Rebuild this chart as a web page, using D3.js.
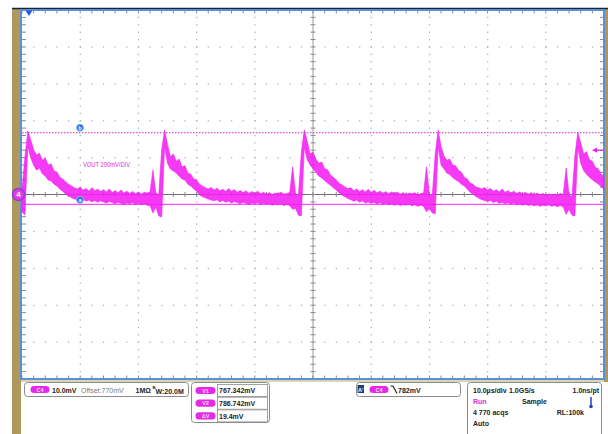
<!DOCTYPE html>
<html><head><meta charset="utf-8">
<script src="https://cdn.jsdelivr.net/npm/d3@7"></script>
<style>html,body{margin:0;padding:0;background:#fff;overflow:hidden}svg{display:block}</style>
</head><body><svg id="c" width="608" height="434"></svg>
<script>
// ---- data (Ch4, 10 mV/div, offset 770 mV, 10 µs/div) ----
const sampleStepUs = 0.5;
const vHigh = [771.2,780.2,787.2,784.8,782.1,780.7,781.2,779.3,779.9,778.0,
778.3,776.4,776.1,774.7,774.2,773.4,772.8,772.3,771.8,771.5,
772.0,771.2,771.6,770.9,771.8,771.1,771.4,770.8,771.3,770.7,
771.5,770.6,771.0,770.5,771.2,770.4,770.9,770.3,770.8,770.2,
770.7,770.1,770.6,770.4,770.7,776.6,770.4,769.9,782.1,787.5,
783.5,780.2,781.0,779.0,779.6,777.5,777.8,775.8,775.5,774.2,
773.9,772.8,772.3,771.8,771.5,771.9,771.2,771.7,771.0,771.4,
770.8,771.6,770.9,771.3,770.6,771.1,770.5,771.0,770.3,770.8,
770.4,770.9,770.2,770.6,770.1,770.5,770.0,770.4,770.2,770.6,
770.1,770.3,770.5,777.5,770.2,769.8,781.5,787.5,784.5,781.0,
781.5,779.6,778.5,778.8,777.0,776.7,775.3,774.6,774.0,773.0,
772.6,772.0,771.6,771.8,771.0,771.5,770.8,771.3,770.7,771.4,
770.6,771.1,770.5,770.9,770.3,770.8,770.2,770.7,770.4,770.6,
770.1,770.5,770.0,770.4,770.2,770.5,769.9,770.3,770.4,777.5,
770.0,769.7,781.0,787.5,783.0,780.5,779.3,779.6,778.0,777.8,
776.6,776.0,774.7,774.2,773.1,772.8,772.0,771.8,771.5,771.9,
771.2,771.6,770.9,771.3,770.7,771.5,770.6,771.0,770.4,770.9,
770.3,770.7,770.2,770.6,770.1,770.5,770.0,770.4,769.9,770.3,
769.8,770.2,769.8,770.1,769.9,770.3,770.0,777.2,769.8,769.5,
780.5,786.9,784.0,781.0,781.6,779.4,779.0,777.4,777.0,775.5,
775.0];
const vLow = [765.3,764.4,783.1,779.9,778.0,776.6,777.2,775.6,775.0,773.9,
773.7,772.8,772.3,771.5,770.9,770.1,769.6,769.1,768.8,768.6,
768.3,768.7,768.2,768.5,768.0,768.4,767.9,768.3,768.0,767.7,
768.1,767.8,767.5,767.9,767.6,767.3,767.7,767.4,767.8,767.2,
767.6,767.3,767.5,767.1,767.0,765.0,766.6,764.2,763.9,783.0,
778.5,776.9,776.4,775.8,775.0,774.2,773.9,772.8,772.3,771.5,
770.9,769.9,769.4,769.1,768.8,768.5,768.3,768.6,768.0,768.4,
767.9,768.2,767.7,768.1,767.8,767.5,767.9,767.6,767.3,767.7,
767.4,767.8,767.2,767.6,767.3,767.5,767.1,767.4,767.2,767.5,
767.0,767.3,767.0,766.0,766.3,764.4,764.2,782.8,779.5,778.0,
777.0,776.0,775.0,774.5,773.8,773.1,772.5,771.8,771.2,770.4,
769.8,769.4,768.9,768.6,768.2,768.5,767.9,768.3,767.7,768.0,
767.6,767.9,767.4,767.8,767.3,767.6,767.2,767.5,767.1,767.4,
767.0,767.3,767.1,767.4,766.9,767.2,766.8,767.1,766.8,765.3,
766.2,765.0,764.8,783.0,778.0,777.0,775.8,775.4,774.6,774.0,
773.5,772.8,772.3,771.5,770.6,770.1,769.5,769.0,768.6,768.4,
768.1,768.4,767.8,768.2,767.6,767.9,767.5,767.8,767.3,767.7,
767.2,767.5,767.1,767.4,767.0,767.3,766.9,767.2,766.8,767.1,
766.9,767.2,766.8,767.0,766.7,767.0,766.6,764.6,766.0,764.4,
764.2,782.8,778.5,776.5,775.5,774.7,774.0,773.4,772.9,772.1,
771.4];
const cursorA = 767.342, cursorB = 786.742, triggerLevel = 782;
const timeDomain = [0, 100];      // µs across 10 divisions
const voltDomain = [720, 820];    // mV across 10 divisions
const xMajor = [0,10,20,30,40,50,60,70,80,90,100];
const yMajor = [720,730,740,750,760,770,780,790,800,810,820];
const channelLabel = ["C4","10.0mV","Offset:770mV","1MΩ","W:20.0M"];
const cursorRows = [["V1","767.342mV"],["V2","786.742mV"],["ΔV","19.4mV"]];
const triggerText = "782mV";
const acqRows = [["10.0µs/div","1.0GS/s","1.0ns/pt"],["Run","Sample",""],["4 770 acqs","","RL:100k"],["Auto","",""]];
const probeLabel = "VOUT 200mV/DIV";

const svg = d3.select("#c");
const F = "'Liberation Sans', Arial, sans-serif";
const MAG = "#f41ef4";
const x = d3.scaleLinear().domain(timeDomain).range([22, 604]);
const y = d3.scaleLinear().domain(voltDomain).range([379, 10]);

// frame & decorations
svg.append("rect").attr("x",0).attr("y",0).attr("width",608).attr("height",434).attr("fill","#fff");
svg.append("rect").attr("x",12).attr("y",8).attr("width",9).attr("height",426).attr("fill","#b0975c");
svg.append("rect").attr("x",604).attr("y",8).attr("width",4).attr("height",374).attr("fill","#b0975c");
svg.append("line").attr("x1",12).attr("x2",608).attr("y1",8.5).attr("y2",8.5).attr("stroke","#1b2333").attr("stroke-width",1.5);
svg.append("rect").attr("x",21).attr("y",380).attr("width",583).attr("height",2).attr("fill","#ddd3b0");

const g = svg.append("g");
// grid dots
const xMinor = d3.range(timeDomain[0], timeDomain[1]+0.01, 2);
const yMinor = d3.range(voltDomain[0], voltDomain[1]+0.01, 2);
xMajor.filter(v=>v>0&&v<100&&v!==50).forEach(xv=>{
  yMinor.forEach(yv=>g.append("rect").attr("x",x(xv)-0.5).attr("y",y(yv)-0.5).attr("width",1.2).attr("height",1.2).attr("fill","#a8a8a8"));
});
yMajor.filter(v=>v>720&&v<820&&v!==770).forEach(yv=>{
  xMinor.forEach(xv=>g.append("rect").attr("x",x(xv)-0.5).attr("y",y(yv)-0.5).attr("width",1.2).attr("height",1.2).attr("fill","#a8a8a8"));
});
// center lines
g.append("line").attr("x1",x(50)).attr("x2",x(50)).attr("y1",y(820)).attr("y2",y(720)).attr("stroke","#9a9a9a").attr("stroke-width",1);
g.append("line").attr("x1",x(0)).attr("x2",x(100)).attr("y1",y(770)).attr("y2",y(770)).attr("stroke","#6e6e6e").attr("stroke-width",1);
xMinor.forEach(xv=>{
  g.append("line").attr("x1",x(xv)).attr("x2",x(xv)).attr("y1",y(770)-2.5).attr("y2",y(770)+2.5).attr("stroke","#8a8a8a");
  g.append("line").attr("x1",x(xv)).attr("x2",x(xv)).attr("y1",y(820)).attr("y2",y(820)+3.5).attr("stroke","#8a8a8a");
  g.append("line").attr("x1",x(xv)).attr("x2",x(xv)).attr("y1",y(720)).attr("y2",y(720)-3.5).attr("stroke","#8a8a8a");
});
yMinor.forEach(yv=>{
  g.append("line").attr("x1",x(50)-2.5).attr("x2",x(50)+2.5).attr("y1",y(yv)).attr("y2",y(yv)).attr("stroke","#8a8a8a");
  g.append("line").attr("x1",x(0)).attr("x2",x(0)+4).attr("y1",y(yv)).attr("y2",y(yv)).attr("stroke","#8a8a8a");
  g.append("line").attr("x1",x(100)).attr("x2",x(100)-4).attr("y1",y(yv)).attr("y2",y(yv)).attr("stroke","#8a8a8a");
});
// plot border
svg.append("rect").attr("x",21).attr("y",10).attr("width",583).attr("height",369).attr("fill","none").attr("stroke","#5a8fdc").attr("stroke-width",2);

// cursors
svg.append("line").attr("x1",x(0)).attr("x2",x(100)).attr("y1",y(cursorA)).attr("y2",y(cursorA)).attr("stroke","#ff4cff").attr("stroke-width",1.2);
svg.append("line").attr("x1",x(0)).attr("x2",x(100)).attr("y1",y(cursorB)).attr("y2",y(cursorB)).attr("stroke","#e050e0").attr("stroke-width",1.2).attr("stroke-dasharray","1.5,1.5");

// trace
const idx = d3.range(vHigh.length);
const area = d3.area().x(i=>x(i*sampleStepUs)).y0(i=>y(vLow[i])).y1(i=>y(vHigh[i])).curve(d3.curveLinear);
svg.append("path").datum(idx).attr("d",area).attr("fill",MAG).attr("fill-opacity",0.88).attr("stroke",MAG).attr("stroke-width",0.6).attr("stroke-linejoin","round");

// cursor labels
[["a",cursorA,-4.5],["b",cursorB,-5]].forEach(([t,v,dy])=>{
  svg.append("circle").attr("cx",80).attr("cy",y(v)+dy).attr("r",3.6).attr("fill","#2d6fe0").attr("stroke","#bcd2f5").attr("stroke-width",0.6);
  svg.append("text").attr("x",80).attr("y",y(v)+dy+1.8).attr("text-anchor","middle").attr("font-family",F).attr("font-size",5.5).attr("font-weight","bold").attr("fill","#fff").text(t);
});
// probe label
svg.append("text").attr("x",83).attr("y",167).attr("font-family",F).attr("font-size",7.2).attr("fill","#e02ae0").attr("textLength",47).attr("lengthAdjust","spacingAndGlyphs").text(probeLabel);

// channel marker
svg.append("circle").attr("cx",18.5).attr("cy",y(770)).attr("r",6).attr("fill","#e63ae6").attr("stroke","#7b45d0").attr("stroke-width",1.5);
svg.append("text").attr("x",18.5).attr("y",y(770)+2.8).attr("text-anchor","middle").attr("font-family",F).attr("font-size",8).attr("font-weight","bold").attr("fill","#fff").text("4");
// trigger position marker
svg.append("path").attr("d",`M${x(1.2)-3.5},10.5 L${x(1.2)+3.5},10.5 L${x(1.2)},16 Z`).attr("fill","#1f5ddc");
// trigger level arrow
const ty = y(triggerLevel);
svg.append("line").attr("x1",596).attr("x2",603).attr("y1",ty).attr("y2",ty).attr("stroke",MAG).attr("stroke-width",1.3);
svg.append("path").attr("d",`M592,${ty} L597,${ty-2.6} L597,${ty+2.6} Z`).attr("fill",MAG);

// ---- bottom panels ----
function box(x0,y0,w,h){svg.append("rect").attr("x",x0).attr("y",y0).attr("width",w).attr("height",h).attr("rx",3).attr("fill","#fff").attr("stroke","#8c8c8c").attr("stroke-width",1);}
function pill(cx,cy,w,label){
  svg.append("rect").attr("x",cx-w/2).attr("y",cy-3.6).attr("width",w).attr("height",7.2).attr("rx",3.6).attr("fill","#e42ae4");
  svg.append("text").attr("x",cx).attr("y",cy+2).attr("text-anchor","middle").attr("font-family",F).attr("font-size",5.5).attr("font-weight","bold").attr("fill","#fbd6fb").text(label);
}
function txt(x0,y0,s,opt={}){
  return svg.append("text").attr("x",x0).attr("y",y0).attr("font-family",F).attr("font-size",opt.size||7).attr("font-weight",opt.weight||"bold").attr("fill",opt.fill||"#222").attr("text-anchor",opt.anchor||"start").text(s);
}
box(24.5,382.5,164,14);
pill(40,389.5,19,channelLabel[0]);
txt(52,392.5,channelLabel[1]);
txt(81,392.5,channelLabel[2],{weight:"normal",fill:"#7a7a7a"});
txt(135.5,392.5,channelLabel[3]);
txt(152.5,389.3,"B",{size:4.2});
txt(155.5,393.5,channelLabel[4]);

box(191.5,382.5,78,40);
cursorRows.forEach((r,i)=>{
  const cy = 390.5 + i*12.7;
  pill(205.5,cy,20,r[0]);
  svg.append("rect").attr("x",217.5).attr("y",cy-6).attr("width",50).attr("height",12).attr("fill","#fff").attr("stroke","#8c8c8c").attr("stroke-width",0.8);
  txt(219,cy+2.8,r[1]);
});

box(356.5,382.5,104,14);
svg.append("rect").attr("x",357.5).attr("y",385).attr("width",6.5).attr("height",8).attr("fill","#1f3f77");
txt(360.7,391.6,"A'",{size:5.5,fill:"#fff",anchor:"middle"});
pill(379,389.5,19,"C4");
svg.append("path").attr("d","M390.5,386 L393,386 L397,393.5").attr("fill","none").attr("stroke","#222").attr("stroke-width",1.2);
txt(398,392.5,triggerText);

box(467.5,382.5,134,60);
const rowY = [392.5,403.5,414.5,426];
txt(473,rowY[0],acqRows[0][0]); txt(509,rowY[0],acqRows[0][1]); txt(599,rowY[0],acqRows[0][2],{anchor:"end"});
txt(473,rowY[1],acqRows[1][0],{fill:"#e02ae0"}); txt(522,rowY[1],acqRows[1][1]);
txt(473,rowY[2],acqRows[2][0]); txt(584,rowY[2],acqRows[2][2],{anchor:"end"});
txt(473,rowY[3],acqRows[3][0]);
// thermometer-like icon
svg.append("line").attr("x1",591).attr("x2",591).attr("y1",397).attr("y2",406).attr("stroke","#1f3fbf").attr("stroke-width",1.5);
svg.append("circle").attr("cx",591).attr("cy",406.5).attr("r",1.8).attr("fill","#1f3fbf");
</script></body></html>
